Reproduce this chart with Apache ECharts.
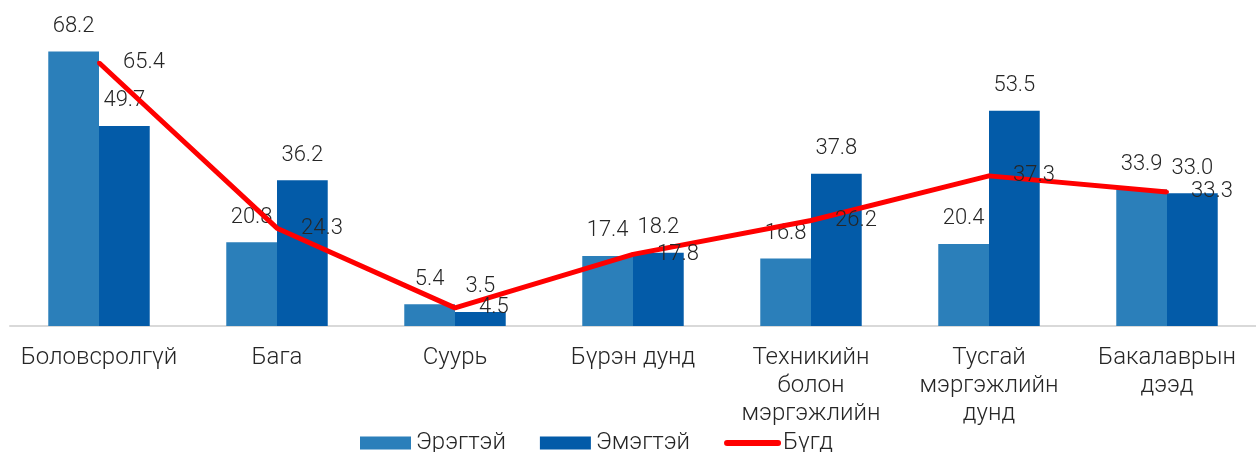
<!DOCTYPE html>
<html>
<head>
<meta charset="utf-8">
<script src="https://cdn.jsdelivr.net/npm/echarts@6/dist/echarts.min.js"></script>
<style>
    html, body { margin: 0; padding: 0; background: #fff; }
    #chart { width: 1256px; height: 452px; }
</style>
</head>
<body>
<div id="chart"></div>
<script>
const categories = ['Боловсролгүй', 'Бага', 'Суурь', 'Бүрэн дунд', 'Техникийн\nболон\nмэргэжлийн', 'Тусгай\nмэргэжлийн\nдунд', 'Бакалаврын\nдээд']
const maleValues = [68.2, 20.8, 5.4, 17.4, 16.8, 20.4, 33.9]
const femaleValues = [49.7, 36.2, 3.5, 18.2, 37.8, 53.5, 33.0]
const totalValues = [65.4, 24.3, 4.5, 17.8, 26.2, 37.3, 33.3]

const textColor = '#262626'
const fontFamily = 'Roboto, "Noto Sans", sans-serif'

const barLabel = {
    show: true,
    position: 'top',
    distance: 14,
    color: textColor,
    fontSize: 22,
    fontWeight: 300,
    fontFamily: fontFamily,
    formatter: ({ value }) => value.toFixed(1)
}

const myChart = echarts.init(document.getElementById('chart'))
const option = {
    animation: false,
    grid: {
        left: 10,
        right: 0,
        top: 4,
        bottom: 126
    },
    legend: {
        left: 355,
        top: 426,
        itemWidth: 51,
        itemHeight: 13,
        itemGap: 34,
        textStyle: {
            color: textColor,
            fontSize: 24,
            fontWeight: 300,
            fontFamily: fontFamily
        },
        data: [
            { name: 'Эрэгтэй', icon: 'rect' },
            { name: 'Эмэгтэй', icon: 'rect' },
            {
                name: 'Бүгд',
                itemStyle: { opacity: 0 },
                lineStyle: { width: 6, cap: 'round' }
            }
        ]
    },
    xAxis: {
        type: 'category',
        data: categories,
        axisTick: { show: false },
        axisLine: {
            lineStyle: { color: '#d9d9d9', width: 2 }
        },
        axisLabel: {
            interval: 0,
            margin: 18,
            color: textColor,
            fontSize: 24,
            fontWeight: 300,
            lineHeight: 28,
            fontFamily: fontFamily
        }
    },
    yAxis: {
        type: 'value',
        min: 0,
        max: 80,
        show: false,
        splitLine: { show: false }
    },
    series: [
        {
            name: 'Эрэгтэй',
            type: 'bar',
            data: maleValues,
            barGap: '0%',
            barCategoryGap: '43%',
            itemStyle: { color: '#2b7fba' },
            label: barLabel
        },
        {
            name: 'Эмэгтэй',
            type: 'bar',
            data: femaleValues,
            itemStyle: { color: '#035ba8' },
            label: barLabel
        },
        {
            name: 'Бүгд',
            type: 'line',
            data: totalValues,
            symbol: 'circle',
            symbolSize: 4,
            showSymbol: true,
            z: 3,
            lineStyle: { color: '#ff0000', width: 5 },
            itemStyle: { color: '#ff0000' },
            label: {
                show: true,
                position: 'right',
                distance: 22,
                color: textColor,
                fontSize: 22,
                fontWeight: 300,
                fontFamily: fontFamily,
                formatter: ({ value }) => value.toFixed(1)
            }
        }
    ]
}
myChart.setOption(option)
</script>
</body>
</html>
